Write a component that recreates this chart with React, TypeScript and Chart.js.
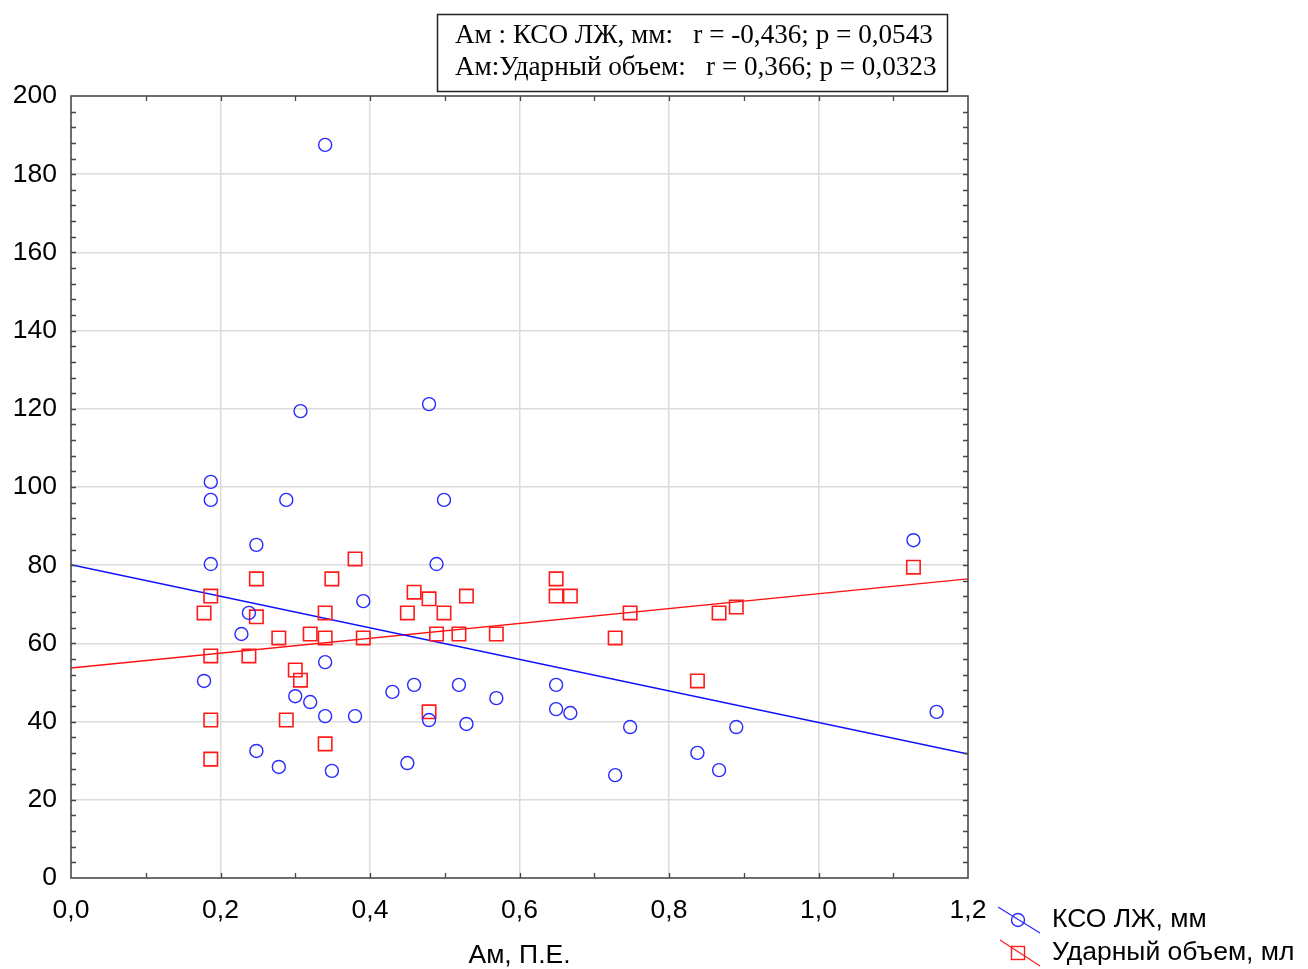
import React, { useEffect, useRef } from 'react';
import { Chart, registerables } from 'chart.js';
Chart.register(...registerables);

// КСО ЛЖ, мм (blue circles)
const ksoX = [0.34, 0.307, 0.479, 0.187, 0.187, 0.288, 0.499, 0.248, 0.187, 0.489, 1.127, 0.238, 0.228, 0.391, 0.178, 0.34, 0.30, 0.32, 0.34, 0.38, 0.43, 0.459, 0.479, 0.519, 0.529, 0.569, 0.649, 0.649, 0.668, 0.748, 0.89, 1.158, 0.248, 0.278, 0.349, 0.45, 0.728, 0.838, 0.867];
const ksoY = [187.5, 119.4, 121.2, 101.3, 96.7, 96.7, 96.7, 85.2, 80.3, 80.3, 86.4, 67.8, 62.4, 70.8, 50.4, 55.2, 46.5, 45, 41.4, 41.4, 47.6, 49.4, 40.4, 49.4, 39.4, 46, 49.4, 43.2, 42.2, 38.6, 38.6, 42.5, 32.5, 28.4, 27.4, 29.4, 26.3, 32, 27.6];

// Ударный объем, мл (red squares)
const udX = [0.178, 0.187, 0.187, 0.187, 0.187, 0.248, 0.248, 0.238, 0.278, 0.288, 0.30, 0.307, 0.32, 0.34, 0.34, 0.34, 0.349, 0.38, 0.391, 0.45, 0.459, 0.479, 0.479, 0.489, 0.499, 0.519, 0.529, 0.569, 0.649, 0.649, 0.668, 0.728, 0.748, 0.838, 0.867, 0.89, 1.127];
const udY = [67.8, 72.1, 56.8, 40.4, 30.4, 76.5, 66.8, 56.8, 61.4, 40.4, 53.2, 50.6, 62.4, 67.8, 61.4, 34.3, 76.5, 81.6, 61.4, 67.8, 73.1, 71.4, 42.5, 62.4, 67.8, 62.4, 72.1, 62.4, 76.5, 72.1, 72.1, 61.4, 67.8, 50.4, 67.8, 69.3, 79.5];

// Regression line endpoints
const fitX = [0, 1.2];
const ksoFitY = [80.1, 31.7];
const udFitY = [53.7, 76.5];

const statLines = [
  'Ам : КСО ЛЖ, мм:   r = -0,436; p = 0,0543',
  'Ам:Ударный объем:   r = 0,366; p = 0,0323',
];
const legendLabels = ['КСО ЛЖ, мм', 'Ударный объем, мл'];
const xTitle = 'Ам, П.Е.';

const BLUE = '#2a2aff';
const RED = '#ff1a1a';
const SANS = "'Liberation Sans', Arial, sans-serif";

const toPts = (xs: number[], ys: number[]) => xs.map((x, i) => ({ x, y: ys[i] }));

const decorPlugin = {
  id: 'decor',
  afterDraw(chart: any) {
    const ctx = chart.ctx as CanvasRenderingContext2D;
    const { left, right, top, bottom } = chart.chartArea;
    const xs = chart.scales.x;
    const ys = chart.scales.y;
    ctx.save();
    // inside ticks
    ctx.strokeStyle = '#444';
    ctx.lineWidth = 1.3;
    const tl = 5;
    ctx.beginPath();
    for (let i = 1; i < 12; i++) {
      const px = Math.round(xs.getPixelForValue(i * 0.1)) + 0.5;
      ctx.moveTo(px, bottom); ctx.lineTo(px, bottom - tl);
      ctx.moveTo(px, top); ctx.lineTo(px, top + tl);
    }
    for (let v = 4; v < 200; v += 4) {
      const py = Math.round(ys.getPixelForValue(v)) + 0.5;
      ctx.moveTo(left, py); ctx.lineTo(left + tl, py);
      ctx.moveTo(right, py); ctx.lineTo(right - tl, py);
    }
    ctx.stroke();
    // frame
    ctx.strokeStyle = '#4a4a4a';
    ctx.lineWidth = 1.6;
    ctx.strokeRect(left, top, right - left, bottom - top);

    // x title
    ctx.fillStyle = '#000';
    ctx.font = `26.5px ${SANS}`;
    ctx.textAlign = 'center';
    ctx.textBaseline = 'middle';
    ctx.fillText(xTitle, (left + right) / 2, 956);

    // legend
    ctx.textAlign = 'left';
    ctx.lineWidth = 1.2;
    ctx.strokeStyle = BLUE;
    ctx.beginPath(); ctx.moveTo(998, 907); ctx.lineTo(1040, 933); ctx.stroke();
    ctx.lineWidth = 1.4;
    ctx.beginPath(); ctx.arc(1018, 920, 6.5, 0, Math.PI * 2); ctx.stroke();
    ctx.lineWidth = 1.2;
    ctx.strokeStyle = RED;
    ctx.beginPath(); ctx.moveTo(1000, 940); ctx.lineTo(1040, 966); ctx.stroke();
    ctx.lineWidth = 1.4;
    ctx.strokeRect(1011.5, 946.5, 13, 13);
    ctx.fillStyle = '#000';
    ctx.font = `26.5px ${SANS}`;
    ctx.fillText(legendLabels[0], 1052, 920);
    ctx.fillText(legendLabels[1], 1052, 953);

    // stats box
    ctx.fillStyle = '#fff';
    ctx.fillRect(437, 14, 510, 77);
    ctx.strokeStyle = '#222';
    ctx.lineWidth = 1.5;
    ctx.strokeRect(437.5, 14.5, 510, 77);
    let fs = 26;
    ctx.font = `${fs}px 'Liberation Serif', 'Times New Roman', serif`;
    const w = ctx.measureText(statLines[0]).width;
    fs = fs * 478 / w;
    ctx.font = `${fs}px 'Liberation Serif', 'Times New Roman', serif`;
    ctx.fillStyle = '#000';
    ctx.fillText(statLines[0], 455, 36);
    ctx.fillText(statLines[1], 455, 68);
    ctx.restore();
  },
};

export default function App() {
  const ref = useRef<HTMLCanvasElement>(null);
  useEffect(() => {
    if (!ref.current) return;
    const tickFont = { family: SANS, size: 26.5 };
    const chart = new Chart(ref.current, {
      type: 'scatter',
      data: {
        datasets: [
          {
            label: legendLabels[0],
            data: toPts(ksoX, ksoY),
            pointStyle: 'circle',
            pointRadius: 6.5,
            pointBorderWidth: 1.4,
            borderColor: BLUE,
            backgroundColor: 'rgba(0,0,0,0)',
            showLine: false,
          },
          {
            label: legendLabels[1],
            data: toPts(udX, udY),
            pointStyle: 'rect',
            pointRadius: 9.5,
            pointBorderWidth: 1.6,
            borderColor: RED,
            backgroundColor: 'rgba(0,0,0,0)',
            showLine: false,
          },
          {
            label: 'fit1',
            data: toPts(fitX, ksoFitY),
            showLine: true,
            pointRadius: 0,
            borderColor: '#1010ff',
            borderWidth: 1.4,
          },
          {
            label: 'fit2',
            data: toPts(fitX, udFitY),
            showLine: true,
            pointRadius: 0,
            borderColor: '#ff1010',
            borderWidth: 1.4,
          },
        ],
      },
      options: {
        animation: false,
        responsive: false,
        layout: { padding: { top: 96, right: 340, left: 0, bottom: 0 } },
        plugins: { legend: { display: false }, tooltip: { enabled: false } },
        scales: {
          x: {
            type: 'linear',
            min: 0,
            max: 1.2,
            afterFit: (s: any) => { s.height = 91; },
            border: { display: false },
            grid: {
              drawTicks: false,
              color: (c: any) => (c.tick && (c.tick.value <= 0.001 || c.tick.value >= 1.199) ? 'rgba(0,0,0,0)' : '#dcdcdc'),
              lineWidth: 1.5,
            },
            ticks: {
              stepSize: 0.2,
              padding: 17,
              color: '#000',
              font: tickFont,
              maxRotation: 0,
              callback: (v: any) => Number(v).toFixed(1).replace('.', ','),
            },
          },
          y: {
            type: 'linear',
            min: 0,
            max: 200,
            afterFit: (s: any) => { s.width = 71; },
            border: { display: false },
            grid: {
              drawTicks: false,
              color: (c: any) => (c.tick && (c.tick.value <= 0 || c.tick.value >= 200) ? 'rgba(0,0,0,0)' : '#dcdcdc'),
              lineWidth: 1.5,
            },
            ticks: {
              stepSize: 20,
              padding: 14,
              color: '#000',
              font: tickFont,
            },
          },
        },
      },
      plugins: [decorPlugin],
    });
    return () => chart.destroy();
  }, []);
  return (
    <div style={{ position: 'absolute', left: 0, top: 0, width: 1308, height: 969, background: '#fff' }}>
      <canvas ref={ref} width={1308} height={969} style={{ width: 1308, height: 969, display: 'block' }} />
    </div>
  );
}
